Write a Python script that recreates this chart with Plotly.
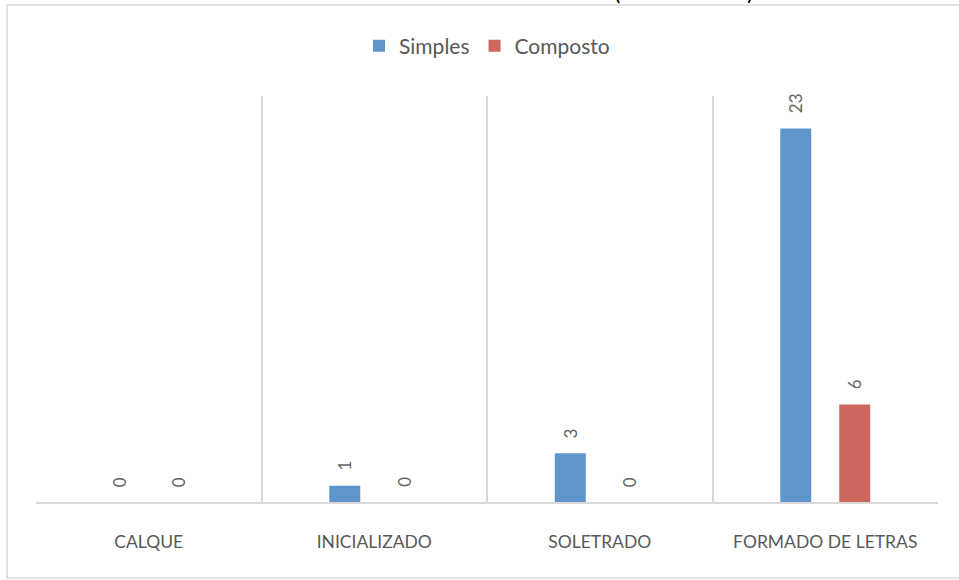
import plotly.graph_objects as go

categories = ["CALQUE", "INICIALIZADO", "SOLETRADO", "FORMADO DE LETRAS"]
simples = [0, 1, 3, 23]
composto = [0, 0, 0, 6]
series_names = ["Simples", "Composto"]
colors = ["#5E96CB", "#CD665D"]

W, H = 959, 580
L, R, T, B = 36, 21, 96, 78
pw, ph = W - L - R, H - T - B

def px_x(x):
    return (x - L) / pw

def px_y(y):
    return (H - B - y) / ph

fig = go.Figure()
for name, vals, col in zip(series_names, [simples, composto], colors):
    fig.add_trace(go.Bar(
        x=categories, y=vals, name=name,
        marker=dict(color=col, line=dict(width=0)),
    ))

# rotated value labels above each bar
offsets = [-0.5, 0.5]
annotations = []
for k, vals in enumerate([simples, composto]):
    for i, v in enumerate(vals):
        annotations.append(dict(
            x=i, y=v, xref="x", yref="y",
            xshift=offsets[k] * 59, yshift=13,
            text=str(v), textangle=-90, showarrow=False,
            yanchor="bottom", xanchor="center",
            font=dict(family="Lato", size=17, color="#666666"),
        ))

# clipped title brackets at the very top
for xp, ch in [(617, "("), (750, ")")]:
    annotations.append(dict(
        x=px_x(xp), y=px_y(7), xref="paper", yref="paper",
        text=ch, showarrow=False, yanchor="bottom", xanchor="center",
        font=dict(family="Lato", size=24, color="#000000"),
    ))

fig.update_layout(
    width=W, height=H,
    margin=dict(l=L, r=R, t=T, b=B, pad=0),
    paper_bgcolor="white", plot_bgcolor="white",
    barmode="group", bargap=0.477, bargroupgap=0.475,
    showlegend=True,
    legend=dict(
        orientation="h", x=px_x(487), y=px_y(46),
        xanchor="center", yanchor="middle",
        font=dict(family="Lato", size=21, color="#595959"),
        itemwidth=30, tracegroupgap=0,
    ),
    xaxis=dict(
        type="category", tickson="boundaries",
        showgrid=True, gridcolor="#D9D9D9", gridwidth=2,
        showline=True, linecolor="#D9D9D9", linewidth=2,
        ticks="", ticklabelstandoff=23,
        tickfont=dict(family="Lato", size=17.5, color="#595959"),
        range=[-0.5, 3.5],
    ),
    yaxis=dict(range=[0, 25], visible=False, showgrid=False, zeroline=False),
    annotations=annotations,
    shapes=[dict(
        type="rect", xref="paper", yref="paper",
        x0=px_x(7), x1=px_x(965), y0=px_y(578), y1=px_y(5),
        line=dict(color="#D9D9D9", width=1.5), fillcolor="rgba(0,0,0,0)",
        layer="below",
    )],
)

fig.write_html("out.html")
